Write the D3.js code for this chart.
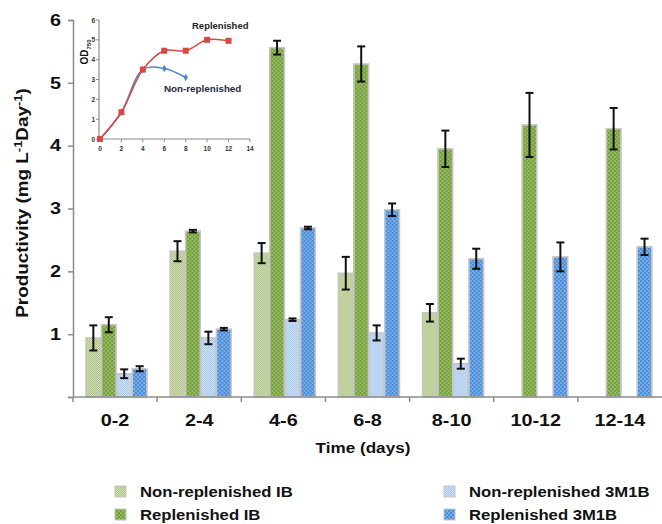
<!DOCTYPE html>
<html>
<head>
<meta charset="utf-8">
<script src="https://cdn.jsdelivr.net/npm/d3@7.9.0/dist/d3.min.js"></script>
<style>
  body { margin: 0; background: #fff; }
  svg { display: block; font-family: "Liberation Sans", Arial, sans-serif; }
</style>
</head>
<body>
<svg id="chart" width="662" height="524"></svg>
<script>
// categories and series (productivity, mg L-1 Day-1)
const categories = ["0-2", "2-4", "4-6", "6-8", "8-10", "10-12", "12-14"];
const seriesNames = ["Non-replenished IB", "Replenished IB", "Non-replenished 3M1B", "Replenished 3M1B"];

const nonRepIB = [0.94, 2.32, 2.29, 1.97, 1.34, null, null];
const nonRepIBErr = [0.20, 0.16, 0.16, 0.26, 0.14, null, null];
const repIB = [1.15, 2.64, 5.56, 5.30, 3.95, 4.33, 4.27];
const repIBErr = [0.12, 0.02, 0.11, 0.28, 0.29, 0.51, 0.33];
const nonRep3M1B = [0.37, 0.94, 1.23, 1.02, 0.53, null, null];
const nonRep3M1BErr = [0.07, 0.10, 0.02, 0.12, 0.08, null, null];
const rep3M1B = [0.45, 1.08, 2.69, 2.98, 2.20, 2.23, 2.39];
const rep3M1BErr = [0.04, 0.02, 0.02, 0.10, 0.16, 0.23, 0.13];

const yTicks = [0, 1, 2, 3, 4, 5, 6];

// inset: OD750 growth curves
const insetDaysRep = [0, 2, 4, 6, 8, 10, 12];
const insetRep = [0, 1.35, 3.5, 4.45, 4.45, 5.0, 4.95];
const insetDaysNonRep = [0, 2, 4, 6, 8];
const insetNonRep = [0, 1.35, 3.5, 3.55, 3.1];
const insetXTicks = [0, 2, 4, 6, 8, 10, 12, 14];
const insetYTicks = [0, 1, 2, 3, 4, 5, 6];

const svg = d3.select("#chart");
const defs = svg.append("defs");

// texture fills like the original Excel patterns
function dotPattern(id, base, dot) {
    let p = defs.append("pattern").attr("id", id)
        .attr("width", 4).attr("height", 4).attr("patternUnits", "userSpaceOnUse");
    p.append("rect").attr("width", 4).attr("height", 4).attr("fill", base);
    p.append("rect").attr("x", 0.5).attr("y", 0.5).attr("width", 1.2).attr("height", 1.2).attr("fill", dot);
    p.append("rect").attr("x", 2.5).attr("y", 2.5).attr("width", 1.2).attr("height", 1.2).attr("fill", dot);
}
function checkPattern(id, base, light) {
    let p = defs.append("pattern").attr("id", id)
        .attr("width", 2).attr("height", 2).attr("patternUnits", "userSpaceOnUse");
    p.append("rect").attr("width", 2).attr("height", 2).attr("fill", base);
    p.append("rect").attr("width", 1).attr("height", 1).attr("fill", light);
    p.append("rect").attr("x", 1).attr("y", 1).attr("width", 1).attr("height", 1).attr("fill", light);
}
checkPattern("p0", "#adc283", "#d3dfb9");
dotPattern("p1", "#74a03a", "#d4e4bc");
checkPattern("p2", "#a4c6ec", "#d2e3f6");
dotPattern("p3", "#4a8edb", "#cfe2f7");
const fills = ["url(#p0)", "url(#p1)", "url(#p2)", "url(#p3)"];

const values = [nonRepIB, repIB, nonRep3M1B, rep3M1B];
const errors = [nonRepIBErr, repIBErr, nonRep3M1BErr, rep3M1BErr];

// scales
const x0 = d3.scaleBand().domain(categories).range([73, 662]).padding(0);
const x1 = d3.scaleBand().domain(d3.range(4)).range([13, 74]).paddingInner(0.05);
const y = d3.scaleLinear().domain([0, 6]).range([397, 20]);

// stretch text horizontally (reference text is wide)
function stretch(sel, k) {
    sel.each(function () {
        let w = this.getComputedTextLength();
        d3.select(this).attr("textLength", w * k).attr("lengthAdjust", "spacingAndGlyphs");
    });
}

// bars
const groups = svg.append("g").selectAll("g")
    .data(categories)
    .join("g")
    .attr("transform", d => `translate(${x0(d)},0)`);

groups.each(function (cat, ci) {
    let g = d3.select(this);
    values.forEach((vals, si) => {
        let v = vals[ci];
        if (v == null) return;
        g.append("rect")
            .attr("x", x1(si))
            .attr("y", y(v))
            .attr("width", x1.bandwidth())
            .attr("height", y(0) - y(v))
            .attr("fill", fills[si])
            .attr("stroke", "#c6c6c6")
            .attr("stroke-width", 1.6);
    });
});

// error bars
groups.each(function (cat, ci) {
    let g = d3.select(this);
    values.forEach((vals, si) => {
        let v = vals[ci], e = errors[si][ci];
        if (v == null) return;
        let cx = x1(si) + x1.bandwidth() / 2;
        let eb = g.append("g").attr("stroke", "#111").attr("stroke-width", 2);
        eb.append("line").attr("x1", cx).attr("x2", cx).attr("y1", y(v - e)).attr("y2", y(v + e));
        eb.append("line").attr("x1", cx - 4).attr("x2", cx + 4).attr("y1", y(v - e)).attr("y2", y(v - e));
        eb.append("line").attr("x1", cx - 4).attr("x2", cx + 4).attr("y1", y(v + e)).attr("y2", y(v + e));
    });
});

// y axis
const yAxis = svg.append("g")
    .attr("transform", "translate(73,0)")
    .call(d3.axisLeft(y).tickValues(yTicks).tickSize(5).tickPadding(7)
        .tickFormat(d => d === 0 ? "" : d));
yAxis.select(".domain").attr("stroke", "#8c8c8c").attr("stroke-width", 1.5);
yAxis.selectAll(".tick line").attr("stroke", "#8c8c8c").attr("stroke-width", 1.5);
yAxis.selectAll("text").attr("font-size", 16.5).attr("font-weight", "bold").attr("fill", "#111")
    .attr("font-family", "Liberation Sans, Arial, sans-serif");
stretch(yAxis.selectAll("text"), 1.2);

// x axis: line with ticks on category boundaries
const xAxis = svg.append("g");
xAxis.append("line")
    .attr("x1", 73).attr("x2", 662).attr("y1", y(0)).attr("y2", y(0))
    .attr("stroke", "#8c8c8c").attr("stroke-width", 1.5);
xAxis.selectAll(".xt")
    .data(categories)
    .join("line")
    .attr("x1", d => x0(d)).attr("x2", d => x0(d))
    .attr("y1", y(0)).attr("y2", y(0) + 5)
    .attr("stroke", "#8c8c8c").attr("stroke-width", 1.5);
const xLabels = xAxis.selectAll(".xl")
    .data(categories)
    .join("text")
    .attr("x", d => x0(d) + x0.bandwidth() / 2)
    .attr("y", 426)
    .attr("text-anchor", "middle")
    .attr("font-size", 16.5)
    .attr("font-weight", "bold")
    .attr("fill", "#111")
    .text(d => d);
stretch(xLabels, 1.2);

// axis titles
const xTitle = svg.append("text")
    .attr("x", 363).attr("y", 453)
    .attr("text-anchor", "middle")
    .attr("font-size", 14.5).attr("font-weight", "bold").attr("fill", "#111")
    .text("Time (days)");
stretch(xTitle, 1.18);

const yTitle = svg.append("text")
    .attr("transform", "translate(28,203) rotate(-90) scale(1.18,1)")
    .attr("text-anchor", "middle")
    .attr("font-size", 16).attr("font-weight", "bold").attr("fill", "#111");
yTitle.append("tspan").text("Productivity (mg L");
yTitle.append("tspan").attr("font-size", 11).attr("dy", -6).text("-1");
yTitle.append("tspan").attr("dy", 6).text("Day");
yTitle.append("tspan").attr("font-size", 11).attr("dy", -6).text("-1");
yTitle.append("tspan").attr("dy", 6).text(")");

// legend
const legendPos = [[115, 492], [115, 515], [444, 492], [444, 515]];
const legend = svg.append("g");
seriesNames.forEach((name, i) => {
    let [lx, ly] = legendPos[i];
    legend.append("rect")
        .attr("x", lx).attr("y", ly - 6).attr("width", 11).attr("height", 11)
        .attr("fill", fills[i]).attr("stroke", "#c6c6c6").attr("stroke-width", 1);
    let t = legend.append("text")
        .attr("x", lx + 25).attr("y", ly + 5)
        .attr("font-size", 14).attr("font-weight", "bold").attr("fill", "#111")
        .text(name);
    stretch(t, 1.19);
});

// inset chart
const ix = d3.scaleLinear().domain([0, 14]).range([100, 250]);
const iy = d3.scaleLinear().domain([0, 6]).range([139, 20]);
const inset = svg.append("g");

inset.append("line").attr("x1", ix(0) - 1).attr("x2", ix(0) - 1).attr("y1", iy(6)).attr("y2", iy(0))
    .attr("stroke", "#8c8c8c").attr("stroke-width", 1.2);
inset.append("line").attr("x1", ix(0) - 1).attr("x2", ix(14)).attr("y1", iy(0)).attr("y2", iy(0))
    .attr("stroke", "#8c8c8c").attr("stroke-width", 1.2);
inset.selectAll(".iyt").data(insetYTicks).join("line")
    .attr("x1", ix(0) - 4).attr("x2", ix(0) - 1).attr("y1", d => iy(d)).attr("y2", d => iy(d))
    .attr("stroke", "#8c8c8c");
inset.selectAll(".ixt").data(insetXTicks).join("line")
    .attr("x1", d => ix(d)).attr("x2", d => ix(d)).attr("y1", iy(0)).attr("y2", iy(0) + 3)
    .attr("stroke", "#8c8c8c");
inset.selectAll(".iyl").data(insetYTicks).join("text")
    .attr("x", ix(0) - 5).attr("y", d => iy(d) + 2.5)
    .attr("text-anchor", "end").attr("font-size", 6.5).attr("font-weight", "bold").attr("fill", "#333")
    .text(d => d);
inset.selectAll(".ixl").data(insetXTicks).join("text")
    .attr("x", d => ix(d)).attr("y", iy(0) + 12)
    .attr("text-anchor", "middle").attr("font-size", 6.5).attr("font-weight", "bold").attr("fill", "#333")
    .text(d => d);

const odLabel = inset.append("text")
    .attr("transform", "translate(88,52) rotate(-90)")
    .attr("text-anchor", "middle")
    .attr("font-size", 10).attr("font-weight", "bold").attr("fill", "#111");
odLabel.append("tspan").text("OD");
odLabel.append("tspan").attr("font-size", 6).attr("dy", 2.5).text("750");

const line = d3.line().x(d => ix(d[0])).y(d => iy(d[1])).curve(d3.curveCatmullRom.alpha(0.5));
const nonRepPts = insetDaysNonRep.map((d, i) => [d, insetNonRep[i]]);
const repPts = insetDaysRep.map((d, i) => [d, insetRep[i]]);

inset.append("path").attr("d", line(nonRepPts)).attr("fill", "none")
    .attr("stroke", "#4a86cf").attr("stroke-width", 1.5);
inset.selectAll(".nrp").data(nonRepPts).join("path")
    .attr("d", d3.symbol(d3.symbolDiamond, 16))
    .attr("transform", d => `translate(${ix(d[0])},${iy(d[1])})`)
    .attr("fill", "#4a86cf");
inset.append("path").attr("d", line(repPts)).attr("fill", "none")
    .attr("stroke", "#d44a45").attr("stroke-width", 1.5);
inset.selectAll(".rp").data(repPts).join("rect")
    .attr("x", d => ix(d[0]) - 3).attr("y", d => iy(d[1]) - 3)
    .attr("width", 6).attr("height", 6)
    .attr("fill", "#d44a45");

inset.append("text").attr("x", 192).attr("y", 29)
    .attr("font-size", 9.5).attr("font-weight", "bold").attr("fill", "#222")
    .text("Replenished");
inset.append("text").attr("x", 164).attr("y", 92)
    .attr("font-size", 9.8).attr("font-weight", "bold").attr("fill", "#1e2a44")
    .text("Non-replenished");
</script>
</body>
</html>
